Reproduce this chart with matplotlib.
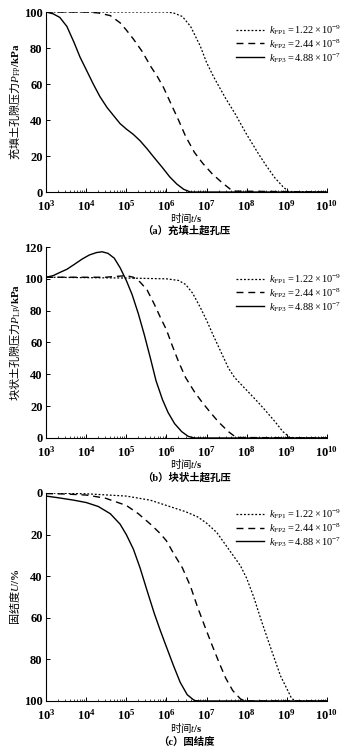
import numpy as np
import matplotlib
matplotlib.use("Agg")
import matplotlib.pyplot as plt
from matplotlib.ticker import FixedLocator, NullFormatter, FuncFormatter

plt.rcParams['font.family'] = ['Liberation Serif', 'Noto Sans CJK SC', 'DejaVu Sans']
plt.rcParams['mathtext.fontset'] = 'custom'
plt.rcParams['mathtext.rm'] = 'Liberation Serif'
plt.rcParams['mathtext.it'] = 'Liberation Serif:italic'
plt.rcParams['mathtext.bf'] = 'Liberation Serif:bold'
plt.rcParams['mathtext.sf'] = 'Liberation Serif'

# ---- panel (a) 充填土超孔压 ----
a1_t = [1e3, 1e5, 1e6, 1.5e6, 2.5e6, 4e6, 7e6, 1e7, 1.5e7, 2e7, 3e7, 5e7, 1e8, 2e8, 3e8, 5e8, 8e8, 1.1e9, 1e10]
a1_p = [100, 100, 100, 99.5, 97.5, 92, 81, 72, 64, 59, 52, 44, 32, 21, 15, 8, 3, 0.3, 0]
a2_t = [1e3, 1e4, 2e4, 4e4, 7e4, 1e5, 1.5e5, 2.5e5, 4e5, 6e5, 8.5e5, 1.3e6, 2e6, 3e6, 5e6, 8e6, 1.4e7, 2.5e7, 4.5e7, 1e10]
a2_p = [100, 100, 99.5, 98, 94, 90, 85, 78, 70, 64, 58, 49, 40, 31, 22, 16, 10, 5, 0.5, 0]
a3_t = [1e3, 1.5e3, 2.2e3, 3.3e3, 5e3, 7e3, 1e4, 1.5e4, 2.2e4, 3.3e4, 5e4, 7e4, 1e5, 1.5e5, 2.2e5, 3.3e5, 5e5, 8e5, 1.2e6, 1.8e6, 2.7e6, 4e6, 1e10]
a3_p = [100, 99, 97, 92, 83, 75, 68, 60, 53, 47, 42, 38, 35, 32, 28.5, 24, 19, 13.5, 8.5, 4.5, 1.5, 0, 0]

# ---- panel (b) 块状土超孔压 ----
b1_t = [1e3, 1e5, 1e6, 2e6, 3e6, 4.5e6, 7e6, 1e7, 1.5e7, 2.2e7, 3.5e7, 5e7, 1e8, 2e8, 3e8, 5e8, 8e8, 1.2e9, 1e10]
b1_p = [101, 100.5, 100, 99, 96.5, 91, 82, 74, 64, 55, 44, 38, 30, 22, 17, 10.5, 4, 0.3, 0]
b2_t = [1e3, 3e4, 1e5, 1.5e5, 2.2e5, 3.3e5, 5e5, 7e5, 1e6, 1.4e6, 2e6, 3e6, 5e6, 8e6, 1.3e7, 2e7, 3.5e7, 5.5e7, 1e10]
b2_p = [101, 101, 102, 101, 98, 93, 84, 76, 68, 58, 48, 38, 29, 22, 15.5, 10, 4, 0.3, 0]
b3_t = [1e3, 1.5e3, 2.2e3, 3.3e3, 5e3, 8e3, 1.2e4, 1.8e4, 2.5e4, 3.5e4, 5e4, 7e4, 1e5, 1.4e5, 2e5, 2.8e5, 4e5, 5.5e5, 8e5, 1.1e6, 1.6e6, 2.4e6, 3.5e6, 5e6, 1e10]
b3_p = [101, 102, 104, 106, 109, 112.5, 115, 116.5, 117, 116, 113, 107, 99, 90, 78, 65, 50, 36, 24, 16, 9, 4, 1, 0, 0]

# ---- panel (c) 固结度 ----
c1_t = [1e3, 1e4, 1e5, 4e5, 1e6, 3e6, 6e6, 1e7, 1.8e7, 3e7, 5e7, 7e7, 1e8, 1.5e8, 2.2e8, 3.3e8, 5e8, 7e8, 1e9, 1.3e9, 1.6e9, 1e10]
c1_u = [0, 0.4, 1.5, 3.5, 6, 9, 11.5, 14.5, 19, 25, 31, 35, 41, 50, 60, 70, 80, 88, 94, 98.5, 100, 100]
c2_t = [1e3, 3e3, 1e4, 3e4, 1e5, 2e5, 4e5, 7e5, 1e6, 1.5e6, 2.5e6, 4e6, 6e6, 9e6, 1.3e7, 2e7, 3e7, 4.5e7, 7e7, 9e7, 1e10]
c2_u = [0.3, 0.5, 1, 2.5, 6, 10, 15, 19.5, 23, 29, 36, 45, 55, 64, 72, 81, 89, 95, 99, 100, 100]
c3_t = [1e3, 2e3, 5e3, 1e4, 2e4, 4e4, 7e4, 1e5, 1.5e5, 2.2e5, 3.3e5, 5e5, 7e5, 1e6, 1.5e6, 2.2e6, 3.3e6, 5e6, 7e6, 1e10]
c3_u = [1.5, 2.3, 3.5, 4.6, 6.5, 10, 15, 20, 27, 36, 47, 58, 66, 74, 83, 91, 97, 99.8, 100, 100]

x_exponents = [3, 4, 5, 6, 7, 8, 9, 10]

labels = [r'$k_{\mathsf{FP1}}\mathsf{=1.22\times10^{-9}}$',
          r'$k_{\mathsf{FP2}}\mathsf{=2.44\times10^{-8}}$',
          r'$k_{\mathsf{FP3}}\mathsf{=4.88\times10^{-7}}$']
styles = [(0, (1.5, 1.5)), (0, (5, 3.5)), '-']
widths = [0.9, 1.0, 1.0]

panels = [
    dict(series=[(a1_t, a1_p), (a2_t, a2_p), (a3_t, a3_p)], ylim=(0, 100), yticks=[0, 20, 40, 60, 80, 100],
         ylabel=r'充填土孔隙压力$P_{\mathsf{FP}}\mathbf{/kPa}$', caption='（a）充填土超孔压',
         pos=[0.128, 0.7443, 0.78, 0.2397], leg_y=0.94, xl_y=-0.142, cap_y=-0.215),
    dict(series=[(b1_t, b1_p), (b2_t, b2_p), (b3_t, b3_p)], ylim=(0, 120), yticks=[0, 20, 40, 60, 80, 100, 120],
         ylabel=r'块状土孔隙压力$P_{\mathsf{LP}}\mathbf{/kPa}$', caption='（b）块状土超孔压',
         pos=[0.128, 0.4168, 0.78, 0.2543], leg_y=0.87, xl_y=-0.138, cap_y=-0.21),
    dict(series=[(c1_t, c1_u), (c2_t, c2_u), (c3_t, c3_u)], ylim=(100, 0), yticks=[0, 20, 40, 60, 80, 100],
         ylabel=r'固结度$U\mathbf{/\%}$', caption='（c）固结度',
         pos=[0.128, 0.0666, 0.78, 0.277], leg_y=0.933, xl_y=-0.132, cap_y=-0.197),
]

major = [10.0 ** k for k in x_exponents]
minor = [m * 10.0 ** k for k in x_exponents[:-1] for m in range(2, 10)]
fmt = FuncFormatter(lambda v, pos: r'$\mathbf{10^{%d}}$' % int(round(np.log10(v))))

fig = plt.figure(figsize=(3.6, 7.51), dpi=100)
for p in panels:
    ax = fig.add_axes(p['pos'])
    for (t, v), ls, lw, lab in zip(p['series'], styles, widths, labels):
        ax.plot(t, v, color='black', linestyle=ls, linewidth=lw, label=lab)
    ax.set_xscale('log')
    ax.set_xlim(major[0], major[-1])
    ax.set_ylim(*p['ylim'])
    ax.set_yticks(p['yticks'])
    ax.xaxis.set_major_locator(FixedLocator(major))
    ax.xaxis.set_major_formatter(fmt)
    ax.xaxis.set_minor_locator(FixedLocator(minor))
    ax.xaxis.set_minor_formatter(NullFormatter())
    for s in ['top', 'right']:
        ax.spines[s].set_visible(False)
    for s in ['left', 'bottom']:
        ax.spines[s].set_linewidth(0.8)
    ax.tick_params(axis='both', which='major', direction='in', length=3, width=0.7, labelsize=9)
    ax.tick_params(axis='y', which='major', pad=2.5)
    ax.tick_params(axis='x', which='major', pad=5)
    ax.tick_params(axis='x', which='minor', direction='in', length=1.8, width=0.5)
    for lbl in ax.get_yticklabels():
        lbl.set_fontweight('bold')
    ax.set_ylabel(p['ylabel'], fontsize=8, labelpad=1, family='Noto Sans CJK SC')
    ax.set_xlabel(r'时间$t\mathbf{/s}$', fontsize=7.5, family='Noto Sans CJK SC')
    ax.xaxis.set_label_coords(0.5, p['xl_y'])
    ax.xaxis.label.set_va('center')
    ax.legend(loc='upper right', bbox_to_anchor=(1.05, p['leg_y']), frameon=False, fontsize=7.5,
              handlelength=2.7, handletextpad=0.4, labelspacing=0.0, borderaxespad=0.0, borderpad=0.0)
    ax.text(0.5, p['cap_y'], p['caption'], transform=ax.transAxes,
            ha='center', va='center', fontsize=7.5, fontweight='bold')

fig.savefig('out.png', dpi=100)
